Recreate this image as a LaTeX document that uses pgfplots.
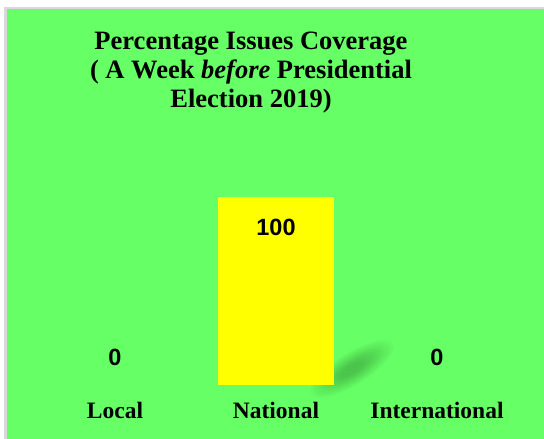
\documentclass[border=0pt]{standalone}
\usepackage{pgfplots}
\pgfplotsset{compat=1.18}
\usepackage{fontspec}
\setmainfont{Liberation Serif}
\newfontfamily\sansbold{Liberation Sans}
\definecolor{bggreen}{HTML}{66FF66}
\definecolor{baryellow}{HTML}{FFFF00}
\definecolor{edgegray}{HTML}{D9D9D9}
\begin{document}
\begin{tikzpicture}[x=1pt,y=1pt]
\fill[white] (0,0) rectangle (544,439);
\fill[edgegray] (4,0) rectangle (544,432);
\fill[bggreen] (6.5,0) rectangle (544,429.5);
% soft shadow behind the bar
\foreach \s in {1.0,0.92,0.84,0.76,0.68,0.6,0.52,0.44,0.36,0.28}{
  \fill[black, opacity=0.025, rotate around={32:(352,70)}] (352,70) ellipse ({48*\s} and {16*\s});
}
\node[align=center, font=\bfseries\fontsize{26.5}{29}\selectfont] at (251,366)
  {Percentage Issues Coverage\\( A Week \textit{before} Presidential\\Election 2019)};
\begin{axis}[
  at={(115pt,54pt)}, anchor=south west,
  scale only axis, width=322pt, height=188pt,
  xmin=0, xmax=2, ymin=0, ymax=100,
  clip=false,
  ybar, bar width=115pt,
  axis line style={draw=none},
  major tick length=0pt,
  ytick=\empty,
  xtick={0,1,2},
  xticklabels={Local,National,International},
  xticklabel style={font=\bfseries\fontsize{23.5}{26}\selectfont, yshift=-14pt},
]
\addplot[draw=none, fill=baryellow, bar shift=0pt,
  nodes near coords,
  every node near coord/.append style={anchor=center, yshift=-30pt, font=\sansbold\bfseries\fontsize{23.5}{26}\selectfont, /pgf/number format/assume math mode=true}]
  coordinates {(1,100)};
\addplot[draw=none, fill=none, bar shift=0pt,
  nodes near coords,
  every node near coord/.append style={anchor=center, yshift=28pt, font=\sansbold\bfseries\fontsize{23.5}{26}\selectfont, /pgf/number format/assume math mode=true}]
  coordinates {(0,0) (2,0)};
\end{axis}
\end{tikzpicture}
\end{document}
